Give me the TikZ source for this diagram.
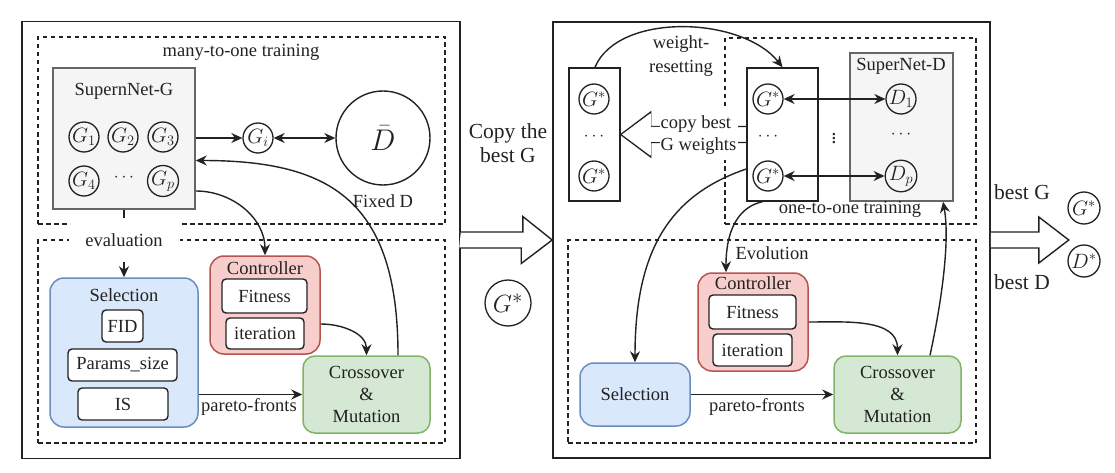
\documentclass[tikz,border=0pt]{standalone}
\usepackage{fontspec}
\setmainfont{Liberation Serif}
\usetikzlibrary{arrows.meta,calc}
\definecolor{gfill}{HTML}{F5F5F5}
\definecolor{gdraw}{HTML}{666666}
\definecolor{bfill}{HTML}{DAE8FC}
\definecolor{bdraw}{HTML}{6C8EBF}
\definecolor{rfill}{HTML}{F8CECC}
\definecolor{rdraw}{HTML}{B85450}
\definecolor{grfill}{HTML}{D5E8D4}
\definecolor{grdraw}{HTML}{82B366}
\definecolor{ink}{HTML}{222222}
\begin{document}
\begin{tikzpicture}[x=1pt,y=-1pt,
 every node/.style={inner sep=0pt, text=ink, font=\fontsize{18.5}{21}\selectfont},
 sz/.style 2 args={minimum width=#1pt, minimum height=#2pt},
 outer/.style={draw=ink, line width=1.6pt},
 dbox/.style={draw=ink, line width=1.3pt, dash pattern=on 4.5pt off 3.5pt},
 gbox/.style={draw=gdraw, fill=gfill, line width=1.5pt},
 colbox/.style={draw=ink, line width=1.5pt},
 circ/.style={circle, draw=ink, line width=1.3pt, minimum size=30pt, font=\fontsize{20.74}{22}\selectfont},
 wbox/.style={draw=ink, fill=white, rounded corners=4pt, line width=1.4pt},
 selbox/.style={draw=bdraw, fill=bfill, rounded corners=14pt, line width=1.5pt},
 ctlbox/.style={draw=rdraw, fill=rfill, rounded corners=14pt, line width=1.5pt},
 cxmbox/.style={draw=grdraw, fill=grfill, rounded corners=12pt, line width=1.5pt, align=center, font=\fontsize{18.5}{22}\selectfont},
 arr/.style={draw=ink, line width=1.4pt, -{Stealth[length=11pt,width=10pt]}},
 darr/.style={draw=ink, line width=1.4pt, {Stealth[length=11pt,width=10pt]}-{Stealth[length=11pt,width=10pt]}},
 hollow/.style={draw=ink, fill=white, line width=1.4pt, line join=miter},
 bigtxt/.style={font=\fontsize{21.5}{24}\selectfont, align=center},
]
\useasboundingbox (0,0) rectangle (1115,473);

% ---------------- Left panel ----------------
\node[outer, sz={438}{437}] (outL) at (241,240) {};
\node[dbox, sz={407}{187}] (dTL) at (241.5,130.5) {};
\node[dbox, sz={407}{203}] (dBL) at (241.5,341.5) {};
\node (tMany) at (241,52) {many-to-one training};

\node[gbox, sz={142}{141}] (supG) at (124,138.5) {};
\node (tSupG) at (124,91) {SupernNet-G};
\node[circ] (g1) at (84,137) {$G_1$};
\node[circ] (g2) at (123,137) {$G_2$};
\node[circ] (g3) at (163,137) {$G_3$};
\node[circ] (g4) at (84,181) {$G_4$};
\node (gdots) at (124,178) {$\cdots$};
\node[circ] (gp) at (163,181) {$G_p$};

\node[circ] (gi) at (258,138) {$G_i$};
\node[circle, draw=ink, line width=1.4pt, minimum size=94pt, font=\fontsize{24.88}{28}\selectfont] (dbar) at (383,138) {\scalebox{1.2}{$\bar{D}$}};
\node (tFixed) at (383,201) {Fixed D};

\draw[arr] (supG.east |- gi) -- (gi.west);
\draw[darr] (gi.east) -- (dbar.west);

\node[selbox, sz={148}{149}] (selL) at (124,352.5) {};
\node (tSelL) at (124,295) {Selection};
\node[wbox, sz={41}{32}] (fid) at (122.5,326) {FID};
\node[wbox, sz={109}{32}] (params) at (122.5,365) {Params\_size};
\node[wbox, sz={90}{32}] (is) at (123,404) {IS};

\node[ctlbox, sz={110}{98}] (ctlL) at (265,305) {};
\node (tCtlL) at (265,268) {Controller};
\node[wbox, sz={85}{34}] (fitL) at (264.5,296) {Fitness};
\node[wbox, sz={78}{31}] (iterL) at (265,333.5) {iteration};

\node[cxmbox, sz={127}{77}] (cxL) at (366.5,394.5) {Crossover\\\&\\Mutation};

\draw[arr] (selL.east |- cxL) -- (cxL.west);
\node (tParL) at (249,407) {pareto-fronts};
\draw[arr] ($(ctlL.east)+(0,19)$) to[out=0,in=90] (cxL.north);
\draw[arr] ($(supG.east)+(0,52.5)$) to[out=0,in=90] (ctlL.north);
\draw[arr] ($(cxL.north)+(31.5,0)$) .. controls (398,200) and (330,160.5) .. ($(supG.east)+(0,22)$);

\draw[arr] (supG.south) -- (selL.north);
\node[fill=white, sz={111}{44}] (tEval) at (124,240) {evaluation};

% ---------------- Middle ----------------
\node[outer, sz={437}{436}] (outR) at (771.5,240) {};
\draw[hollow] ($(outL.east)+(0,-8)$) -- ++(62,0) -- ++(0,-15.5) -- (outR.west) -- ++(-31,23.5) -- ++(0,-15.5) -- ++(-62,0);
\node[bigtxt] (tCopy) at (508,143) {Copy the\\best G};
\node[circle, draw=ink, line width=1.3pt, minimum size=46pt, font=\fontsize{24.88}{26}\selectfont] (gmid) at (508,303) {$G^*$};

% ---------------- Right panel ----------------
\node[dbox, sz={251}{186}] (dTR) at (850.5,131) {};
\node[dbox, sz={408}{203}] (dBR) at (772,341.5) {};

\node[colbox, sz={51}{133}] (colL) at (594.5,134.5) {};
\node[circ] (ga) at (594,99) {$G^*$};
\node (gadots) at (594,137) {$\cdots$};
\node[circ] (gb) at (594,176) {$G^*$};

\node[colbox, sz={71}{133}] (colM) at (782.5,134.5) {};
\node[circ] (gc) at (768,99) {$G^*$};
\node (gcdots) at (768,137) {$\cdots$};
\node[circ] (gd) at (768,176) {$G^*$};

\node[gbox, sz={103}{148}] (supD) at (901.5,127) {};
\node (tSupD) at (901,66) {SuperNet-D};
\node[circ] (d1) at (901,99) {$D_1$};
\node (ddots) at (901,135) {$\cdots$};
\node[circ] (dp) at (901,176) {$D_p$};
\node[font=\fontsize{20.74}{22}\selectfont] (vdots) at (834,136) {$\vdots$};
\node (tOne) at (850,209) {one-to-one training};

\draw[darr] (gc.east) -- (d1.west);
\draw[darr] (gd.east) -- (dp.west);

\draw[arr] ($(colL.north)+(0.5,0)$) .. controls (618,12) and (742,16) .. (colM.north);
\node[align=center, font=\fontsize{18.5}{24}\selectfont] (tWeight) at (681,56) {weight-\\resetting};

\draw[hollow] (colL.east) -- ++(30,-22.5) -- ++(0,14.5) -- ($(colM.west)+(0,-8)$);
\draw[hollow] (colL.east) -- ++(30,22.5) -- ++(0,-14.5) -- ($(colM.west)+(0,8)$);
\fill[white] ($(colL.east)+(1.5,0)$) -- ++(28.5,-21) -- ++(0,13.5) -- ++(60,0) -- ++(0,15) -- ++(-60,0) -- ++(0,13.5) -- cycle;
\node[fill=white, align=left, sz={78}{50}, font=\fontsize{18.5}{22}\selectfont] (tCopyW) at (698.5,135) {copy best\\G weights};

\node (tEvo) at (772,253) {Evolution};
\node[ctlbox, sz={110}{98}] (ctlR) at (753,322) {};
\node (tCtlR) at (753,283) {Controller};
\node[wbox, sz={87}{34}] (fitR) at (752.5,312) {Fitness};
\node[wbox, sz={79}{32}] (iterR) at (752.5,350) {iteration};
\node[selbox, sz={110}{63}] (selR) at (635,394.5) {Selection};
\node[cxmbox, sz={127}{77}] (cxR) at (897.5,394.5) {Crossover\\\&\\Mutation};

\draw[arr] (selR.east) -- (cxR.west);
\node (tParR) at (757,407) {pareto-fronts};
\draw[arr] (ctlR.east) to[out=0,in=90] (cxR.north);
\draw[arr] ($(cxR.north)+(32.5,0)$) .. controls (942,300) and (950,240) .. ($(supD.south)+(41.5,0)$);
\draw[arr] ($(colM.south)+(-20,0)$) .. controls (742,206) and (726,225) .. ($(ctlR.north)+(-27,0)$);
\draw[arr] ($(colM.west)+(0,34.5)$) .. controls (670,195) and (635,250) .. (selR.north);

% ---------------- Output ----------------
\draw[hollow] ($(outR.east)+(0,-8)$) -- ++(48,0) -- ++(0,-15) -- ++(30,23) -- ++(-30,23) -- ++(0,-15) -- ++(-48,0);
\node[bigtxt] (tBestG) at (1022,192) {best G};
\node[bigtxt] (tBestD) at (1022,282) {best D};
\node[circ, minimum size=32pt] (gout) at (1084,208) {$G^*$};
\node[circ, minimum size=32pt] (dout) at (1084,261) {$D^*$};
\end{tikzpicture}
\end{document}
